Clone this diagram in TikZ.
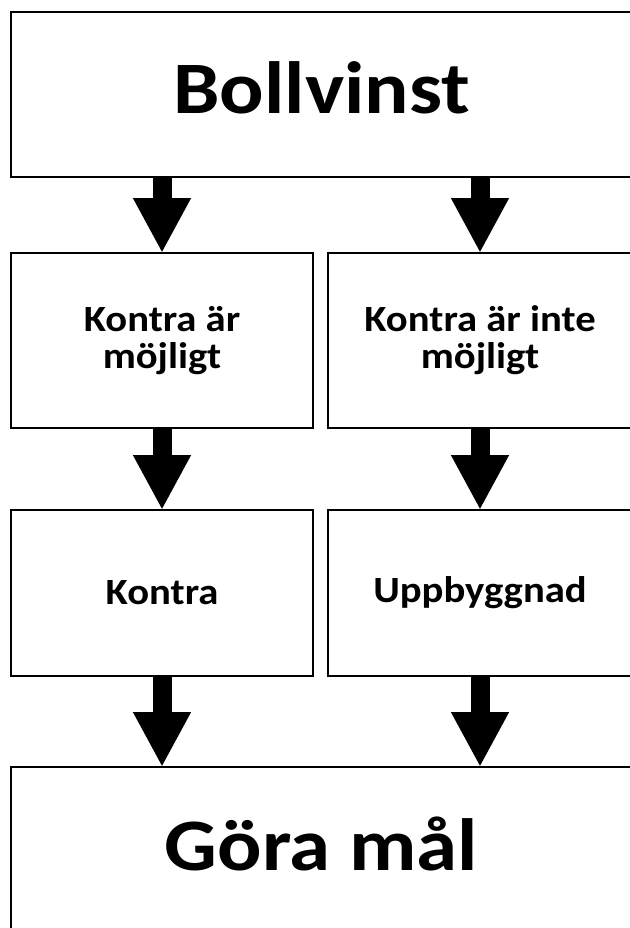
\documentclass[tikz,border=0pt]{standalone}
\usepackage{fontspec}
\setmainfont{Carlito}
\usetikzlibrary{arrows.meta}
\tikzset{
  box/.style={draw=black, line width=2pt, fill=white, inner sep=0pt, outer sep=0pt, rectangle, align=center},
  bigtext/.style={font=\bfseries\fontsize{74}{80}\selectfont, text height=52pt, text depth=13pt},
  smalltext/.style={font=\bfseries\fontsize{37}{37}\selectfont},
  flow/.style={line width=19pt, -{Triangle[length=55pt,width=54pt]}}
}
\begin{document}
\begin{tikzpicture}[x=1pt,y=-1pt]
  \fill[white] (0,0) rectangle (629,928);
  \useasboundingbox (0,0) rectangle (629,928);
  \node[box, bigtext, minimum width=621pt, minimum height=165pt] (top) at (321.5,94.5) {\scalebox{1.12}[1]{Bollvinst}};
  \node[box, smalltext, minimum width=302pt, minimum height=175pt] (km) at (162,340.5) {\scalebox{1.1}[1]{Kontra är}\\\scalebox{1.1}[1]{möjligt}};
  \node[box, smalltext, minimum width=304pt, minimum height=175pt] (kim) at (480,340.5) {\scalebox{1.1}[1]{Kontra är inte}\\\scalebox{1.1}[1]{möjligt}};
  \node[box, smalltext, minimum width=302pt, minimum height=166pt] (k) at (162,593) {\scalebox{1.1}[1]{Kontra}};
  \node[box, smalltext, minimum width=304pt, minimum height=166pt] (u) at (480,593) {\scalebox{1.1}[1]{Uppbyggnad}};
  \node[box, bigtext, minimum width=621pt, minimum height=168pt] (g) at (321.5,851) {\scalebox{1.12}[1]{Göra mål}};
  \draw[flow] (top.south -| km.north) -- (km.north);
  \draw[flow] (top.south -| kim.north) -- (kim.north);
  \draw[flow] (km.south) -- (k.north);
  \draw[flow] (kim.south) -- (u.north);
  \draw[flow] (k.south) -- (g.north -| k.south);
  \draw[flow] (u.south) -- (g.north -| u.south);
\end{tikzpicture}
\end{document}
